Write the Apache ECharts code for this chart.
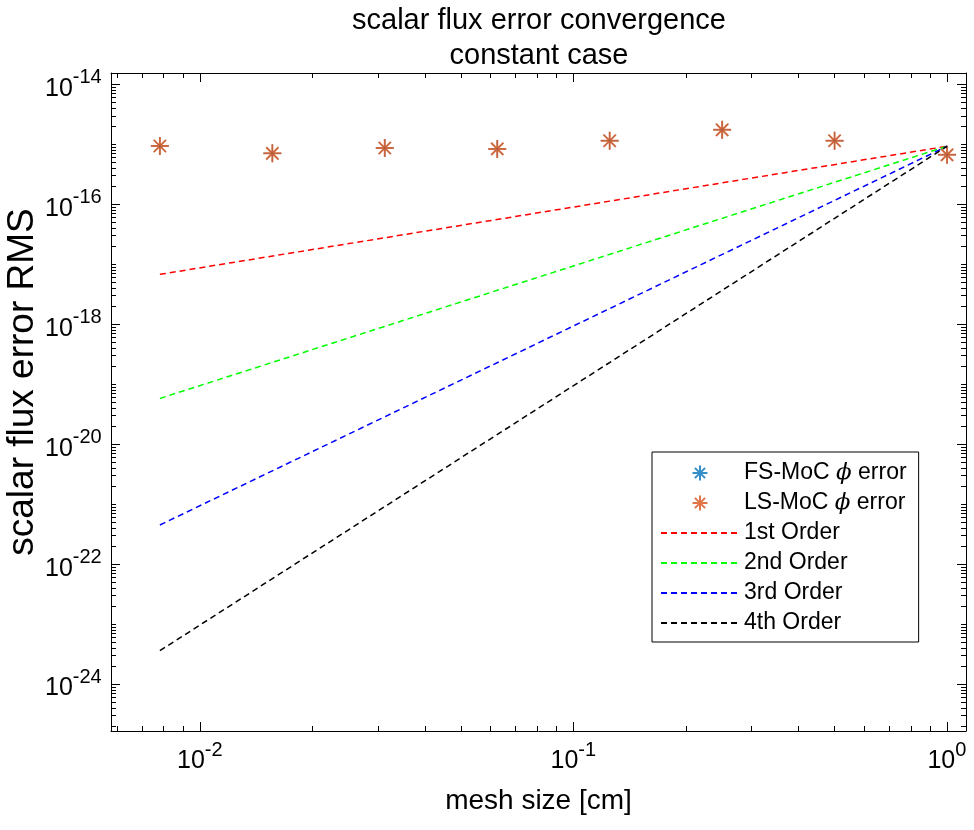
<!DOCTYPE html>
<html>
<head>
<meta charset="utf-8">
<script src="https://cdn.jsdelivr.net/npm/echarts@6/dist/echarts.min.js"></script>
<style>
html,body{margin:0;padding:0;background:#fff}
#chart{width:974px;height:830px}
</style>
</head>
<body>
<div id="chart"></div>
<script>
// mesh sizes [cm]
var meshSize = [0.0078125, 0.015625, 0.03125, 0.0625, 0.125, 0.25, 0.5, 1];
// scalar flux RMS error (FS sits under LS in the picture)
var fsErr = [9.4e-16, 7.1e-16, 8.7e-16, 8.4e-16, 1.15e-15, 1.75e-15, 1.15e-15, 6.7e-16];
var lsErr = [9.4e-16, 7.1e-16, 8.7e-16, 8.4e-16, 1.15e-15, 1.75e-15, 1.15e-15, 6.7e-16];
// reference order lines, end points
var refMesh = [0.0078125, 1];
var order1 = [6.8e-18, 9.3e-16];
var order2 = [5.8e-20, 9.3e-16];
var order3 = [4.5e-22, 9.3e-16];
var order4 = [3.6e-24, 9.3e-16];
// tick labels
var xLabelTicks = [0.01, 0.1, 1];
var yLabelTicks = [1e-24, 1e-22, 1e-20, 1e-18, 1e-16, 1e-14];

var X_MIN = 0.00578, X_MAX = 1.124;
var Y_MIN = 1.65e-25, Y_MAX = 1.55e-14;
var FONT = "'Liberation Sans', Arial, Helvetica, sans-serif";
var STAR = 'path://M5 0L5 10M0 5L10 5M1.6 1.6L8.4 8.4M8.4 1.6L1.6 8.4';

function minorTicks(lo, hi, isMajor) {
  var out = [];
  for (var e = Math.floor(Math.log10(lo)); e <= Math.ceil(Math.log10(hi)); e++) {
    for (var k = 1; k < 10; k++) {
      var v = k * Math.pow(10, e);
      if (v >= lo && v <= hi && !isMajor(k, e)) out.push(v);
    }
  }
  return out;
}
var xMinor = minorTicks(X_MIN, X_MAX, function(k){ return k === 1; });
var yMinor = minorTicks(Y_MIN, Y_MAX, function(k, e){ return k === 1 && e % 2 === 0; });

// "10" with a raised exponent; the z token only sets the line height
function expLabel(v) {
  return '{b|10}{s|' + Math.round(Math.log10(v)) + '}{z| }';
}
var tickRich = {
  b: {fontSize: 25, fontFamily: FONT, color: '#000', lineHeight: 26, verticalAlign: 'bottom'},
  s: {fontSize: 20, fontFamily: FONT, color: '#000', lineHeight: 20, verticalAlign: 'top'},
  z: {fontSize: 1, lineHeight: 34}
};

function axis(pos, min, max, ticks, len, labels, extra) {
  var a = {
    type: 'log', logBase: 10, position: pos, min: min, max: max,
    gridIndex: 0,
    axisLine: {show: !!extra.line, onZero: false, lineStyle: {color: '#000', width: 1}},
    axisTick: {show: true, inside: true, length: len, customValues: ticks, lineStyle: {color: '#000', width: 1}},
    axisLabel: labels ? {customValues: labels, formatter: expLabel, rich: tickRich, margin: 9} : {show: false},
    splitLine: {show: false},
    minorTick: {show: false}
  };
  for (var k in extra) if (k !== 'line') a[k] = extra[k];
  return a;
}

var yMajor = [1e-24, 1e-22, 1e-20, 1e-18, 1e-16, 1e-14];

var chart = echarts.init(document.getElementById('chart'), null, {renderer: 'canvas'});

function pairs(xs, ys) {
  return xs.map(function(x, i){ return [x, ys[i]]; });
}
function refLine(name, color, ys) {
  return {
    name: name, type: 'line', data: pairs(refMesh, ys), symbol: 'none',
    lineStyle: {color: color, width: 1.5, type: [6, 4]}, itemStyle: {color: color}
  };
}
function starSeries(name, color, ys, w) {
  return {
    name: name, type: 'scatter', data: pairs(meshSize, ys),
    symbol: STAR, symbolSize: 18,
    itemStyle: {color: 'transparent', borderColor: color, borderWidth: w}
  };
}
function legendLine(name) {
  return {name: name, itemStyle: {opacity: 0}};
}

chart.setOption({
  animation: false,
  backgroundColor: '#fff',
  title: {
    text: 'scalar flux error convergence\nconstant case',
    left: 539, top: 3, padding: 0, textAlign: 'center',
    textStyle: {fontFamily: FONT, fontSize: 29, fontWeight: 'normal', color: '#000', lineHeight: 35}
  },
  grid: {left: 111, right: 8, top: 73, bottom: 99, containLabel: false, outerBoundsMode: 'none'},
  xAxis: [
    axis('bottom', X_MIN, X_MAX, xLabelTicks, 9, xLabelTicks, {
      line: true, name: 'mesh size [cm]', nameLocation: 'middle', nameGap: 56, nameMoveOverlap: false,
      nameTextStyle: {fontFamily: FONT, fontSize: 28, color: '#000'}
    }),
    axis('bottom', X_MIN, X_MAX, xMinor, 5, null, {}),
    axis('top', X_MIN, X_MAX, xLabelTicks, 9, null, {line: true}),
    axis('top', X_MIN, X_MAX, xMinor, 5, null, {})
  ],
  yAxis: [
    axis('left', Y_MIN, Y_MAX, yMajor, 9, yLabelTicks, {
      line: true, name: 'scalar flux error RMS', nameLocation: 'middle', nameGap: 70, nameRotate: 90,
      nameMoveOverlap: false,
      nameTextStyle: {fontFamily: FONT, fontSize: 37, color: '#000', padding: [0, 0, 0, 40]}
    }),
    axis('left', Y_MIN, Y_MAX, yMinor, 5, null, {}),
    axis('right', Y_MIN, Y_MAX, yMajor, 9, null, {line: true}),
    axis('right', Y_MIN, Y_MAX, yMinor, 5, null, {})
  ],
  legend: {
    orient: 'vertical', left: 652, top: 452,
    padding: [6, 12, 4, 8], itemGap: 0, itemWidth: 78, itemHeight: 15,
    backgroundColor: '#fff', borderColor: '#000', borderWidth: 1, borderRadius: 0,
    textStyle: {
      fontFamily: FONT, fontSize: 23, color: '#000', lineHeight: 30,
      rich: {i: {fontFamily: "'DejaVu Serif', serif", fontStyle: 'italic', fontSize: 23, lineHeight: 30}}
    },
    formatter: function(name){ return name.replace('ϕ', '{i|ϕ}'); },
    data: [
      {name: 'FS-MoC ϕ error', icon: STAR},
      {name: 'LS-MoC ϕ error', icon: STAR},
      legendLine('1st Order'), legendLine('2nd Order'), legendLine('3rd Order'), legendLine('4th Order')
    ]
  },
  series: [
    starSeries('FS-MoC ϕ error', '#0072BD', fsErr, 1),
    starSeries('LS-MoC ϕ error', '#D95319', lsErr, 2),
    refLine('1st Order', '#FF0000', order1),
    refLine('2nd Order', '#00FF00', order2),
    refLine('3rd Order', '#0000FF', order3),
    refLine('4th Order', '#000000', order4)
  ]
});
</script>
</body>
</html>
